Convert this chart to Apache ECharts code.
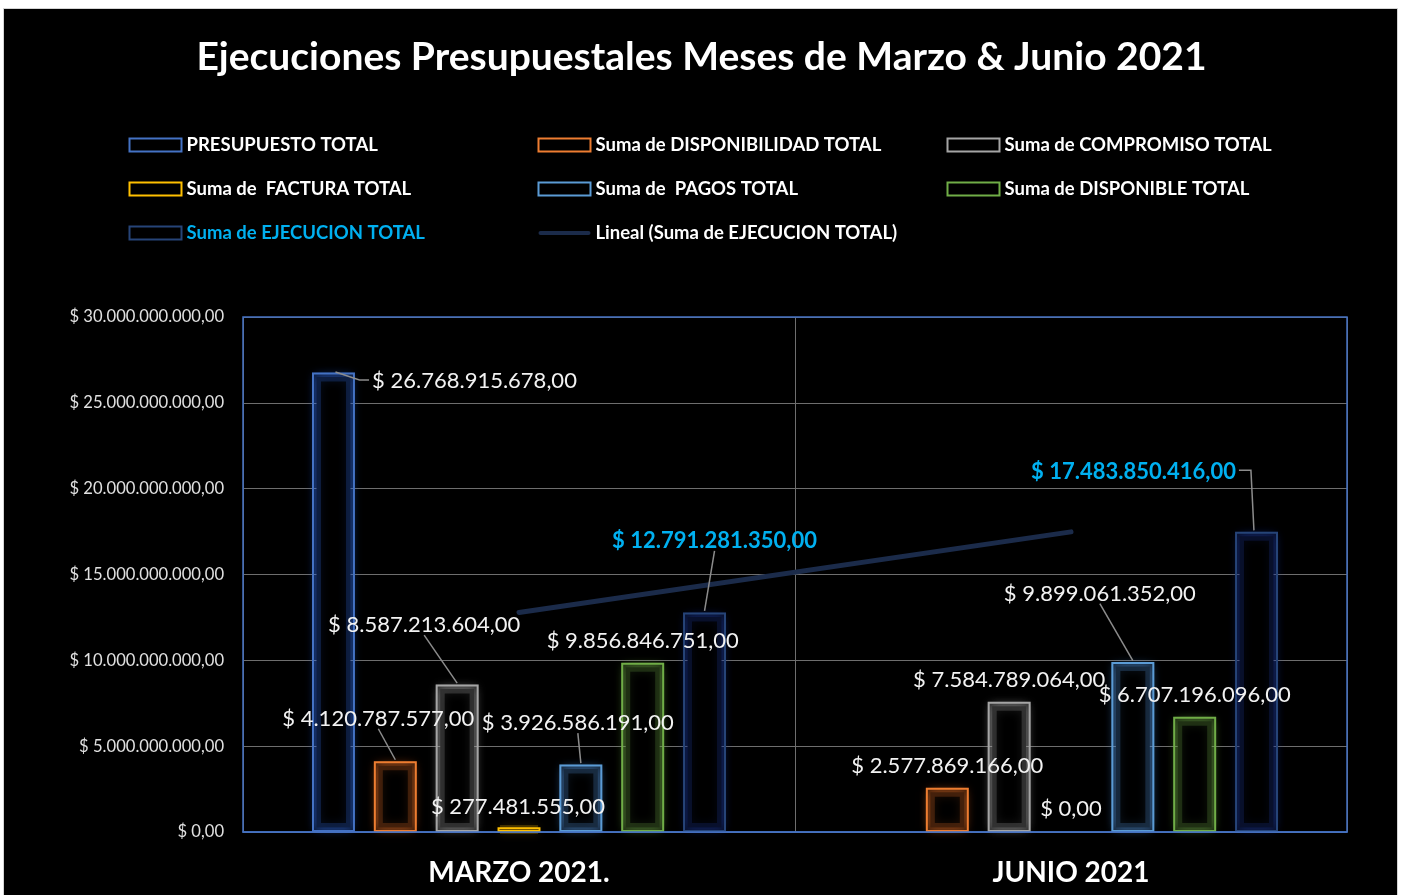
<!DOCTYPE html>
<html>
<head>
<meta charset="utf-8">
<script src="https://cdn.jsdelivr.net/npm/echarts@6/dist/echarts.min.js"></script>
<style>
html,body{margin:0;padding:0;background:#ffffff;}
#frame{position:absolute;left:3px;top:8px;width:1395px;height:900px;background:#000;border:1px solid #d4d4d4;box-sizing:border-box;}
#chart{position:absolute;left:0;top:0;width:1403px;height:895px;}
</style>
</head>
<body>
<div id="frame"></div>
<div id="chart"></div>
<script>
// ---- data ----
const categories = ['MARZO 2021.', 'JUNIO 2021'];
const seriesNames = ['PRESUPUESTO TOTAL', 'Suma de DISPONIBILIDAD TOTAL', 'Suma de COMPROMISO TOTAL',
  'Suma de  FACTURA TOTAL', 'Suma de  PAGOS TOTAL', 'Suma de DISPONIBLE TOTAL', 'Suma de EJECUCION TOTAL'];
const presupuesto    = [26768915678, null];
const disponibilidad = [4120787577, 2577869166];
const compromiso     = [8587213604, 7584789064];
const factura        = [277481555, 0];
const pagos          = [3926586191, 9899061352];
const disponible     = [9856846751, 6707196096];
const ejecucion      = [12791281350, 17483850416];
const trendName = 'Lineal (Suma de EJECUCION TOTAL)';
const yMin = 0, yMax = 30000000000, yStep = 5000000000;

// ---- styling ----
const FONT = 'Lato, "Open Sans", sans-serif';
const colors = ['#4472C4', '#ED7D31', '#A5A5A5', '#FFC000', '#5B9BD5', '#70AD47', '#264478'];
const glowRGB = ['50,110,230', '237,115,40', '175,175,175', '255,192,0', '85,150,225', '112,173,71', '30,60,160'];
// label shifts [dx, dy] relative to default 'top' label
const shifts = [
  [[141, 26], [0, 0]],
  [[-17, -25], [0, -4]],
  [[-33, -42], [0, -4]],
  [[-1, -3], [0, -5]],
  [[-3, -24], [-33, -51]],
  [[0, -4], [0, -4]],
  [[10, -54], [-123, -42]]
];
// leader line style: 0 none, 1 straight (label bottom -> bar top), 2 elbow right of bar, 3 elbow from label end
const leaders = [
  [2, 0], [1, 0], [1, 0], [0, 0], [1, 1], [0, 0], [1, 3]
];

function fmt(v) {
  const s = Math.round(v).toString().replace(/\B(?=(\d{3})+(?!\d))/g, '.');
  return '$ ' + s + ',00';
}

const valueArrays = [presupuesto, disponibilidad, compromiso, factura, pagos, disponible, ejecucion];
const leaderPts = {};

const series = [];
// soft glow layer (same bars on an overlapping hidden category axis)
valueArrays.forEach((arr, si) => {
  series.push({
    name: 'glow' + si,
    type: 'bar',
    xAxisIndex: 1,
    barGap: '44%',
    barCategoryGap: '25%',
    silent: true,
    data: arr.map(v => ({
      value: v,
      itemStyle: v === 0 ? { borderColor: 'rgba(0,0,0,0)', shadowBlur: 0, color: 'none' } : undefined
    })),
    itemStyle: {
      color: '#000000',
      borderColor: 'rgba(' + glowRGB[si] + ',0.22)',
      borderWidth: 9,
      shadowBlur: 10,
      shadowColor: 'rgba(' + glowRGB[si] + ',0.55)'
    },
    z: 1
  });
});

valueArrays.forEach((arr, si) => {
  series.push({
    name: seriesNames[si],
    type: 'bar',
    barGap: '44%',
    barCategoryGap: '25%',
    data: arr.map(v => ({
      value: v,
      itemStyle: v === 0 ? { borderColor: 'rgba(0,0,0,0)' } : undefined
    })),
    itemStyle: {
      color: 'none',
      borderColor: colors[si],
      borderWidth: 2
    },
    label: {
      show: true,
      position: 'top',
      distance: 5,
      formatter: p => fmt(p.value),
      color: si === 6 ? '#00B0F0' : '#f2f2f2',
      fontWeight: si === 6 ? 'bold' : 'normal',
      fontFamily: FONT,
      fontSize: 22
    },
    labelLayout: function (params) {
      const di = params.dataIndex;
      const s = shifts[si][di];
      const r = params.rect, l = params.labelRect;
      const nx = l.x + s[0], ny = l.y + s[1];
      const kind = leaders[si][di];
      const bx = r.x + r.width / 2, by = r.y;
      const ly = ny + l.height / 2;
      let pts = null;
      if (kind === 1) {
        pts = [[nx + l.width / 2, ny + l.height - 1], [bx, by]];
      } else if (kind === 2) {
        pts = [[bx + 2, by + 1], [r.x + r.width + 3, ly - 1], [nx - 3, ly - 1]];
      } else if (kind === 3) {
        const ex = nx + l.width + 3;
        pts = [[ex, ly - 2], [ex + 12, ly - 2], [ex + 15, by]];
      }
      leaderPts[si + '_' + di] = pts;
      return { x: nx, y: ny, align: 'left', verticalAlign: 'top' };
    },
    z: 3
  });
});

series.push({
  name: trendName,
  type: 'line',
  data: ejecucion,
  symbol: 'none',
  lineStyle: { color: '#1b2b4a', width: 5, cap: 'round' },
  itemStyle: { color: '#1b2b4a' },
  z: 2
});

const legendText = { color: '#ffffff', fontWeight: 'bold', fontSize: 18.5, fontFamily: FONT, lineHeight: 20 };
function legendCol(left, names) {
  return {
    orient: 'vertical',
    left: left,
    top: 130,
    itemWidth: 52,
    itemHeight: 13,
    itemGap: 24,
    icon: 'rect',
    textStyle: legendText,
    selectedMode: false,
    data: names.map(n => {
      if (n === seriesNames[6]) return { name: n, textStyle: { color: '#00B0F0' } };
      if (n === trendName) return { name: n, icon: 'path://M2,0 L98,0 A2,2 0 0 1 98,8 L2,8 A2,2 0 0 1 2,0 Z', itemStyle: { color: '#1b2b4a', borderWidth: 0 } };
      return { name: n };
    })
  };
}

const option = {
  backgroundColor: 'transparent',
  animation: false,
  title: {
    text: 'Ejecuciones Presupuestales Meses de Marzo & Junio 2021',
    left: 'center',
    top: 33,
    textStyle: { color: '#ffffff', fontSize: 39, fontWeight: 'bold', fontFamily: FONT }
  },
  legend: [
    legendCol(122, [seriesNames[0], seriesNames[3], seriesNames[6]]),
    legendCol(531, [seriesNames[1], seriesNames[4], trendName]),
    legendCol(940, [seriesNames[2], seriesNames[5]])
  ],
  grid: {
    left: 243, right: 56, top: 317, bottom: 63,
    show: true, borderColor: '#4472C4', borderWidth: 1.5, backgroundColor: 'transparent', z: 4
  },
  xAxis: [{
    type: 'category',
    data: categories,
    axisLine: { show: true, lineStyle: { color: '#4472C4', width: 1.5 } },
    axisTick: { show: false },
    splitLine: { show: true, lineStyle: { color: '#6e6e6e', width: 1 } },
    axisLabel: { color: '#ffffff', fontSize: 28, fontWeight: 'bold', fontFamily: FONT, margin: 27 }
  }, {
    type: 'category',
    data: categories,
    show: false
  }],
  yAxis: {
    type: 'value',
    min: yMin, max: yMax, interval: yStep,
    axisLine: { show: false },
    axisTick: { show: false },
    splitLine: { show: true, lineStyle: { color: '#6e6e6e', width: 1 } },
    axisLabel: { color: '#e0e0e0', fontSize: 16.6, fontFamily: FONT, margin: 19, formatter: v => fmt(v) }
  },
  series: series
};

const chart = echarts.init(document.getElementById('chart'), null, { renderer: 'canvas' });
chart.setOption(option);
// leader lines from the computed label/bar rectangles
const zr = chart.getZr();
Object.keys(leaderPts).forEach(k => {
  const pts = leaderPts[k];
  if (!pts) return;
  zr.add(new echarts.graphic.Polyline({
    shape: { points: pts },
    style: { stroke: '#8c8c8c', lineWidth: 1.5, fill: null },
    z: 50
  }));
});
</script>
</body>
</html>
